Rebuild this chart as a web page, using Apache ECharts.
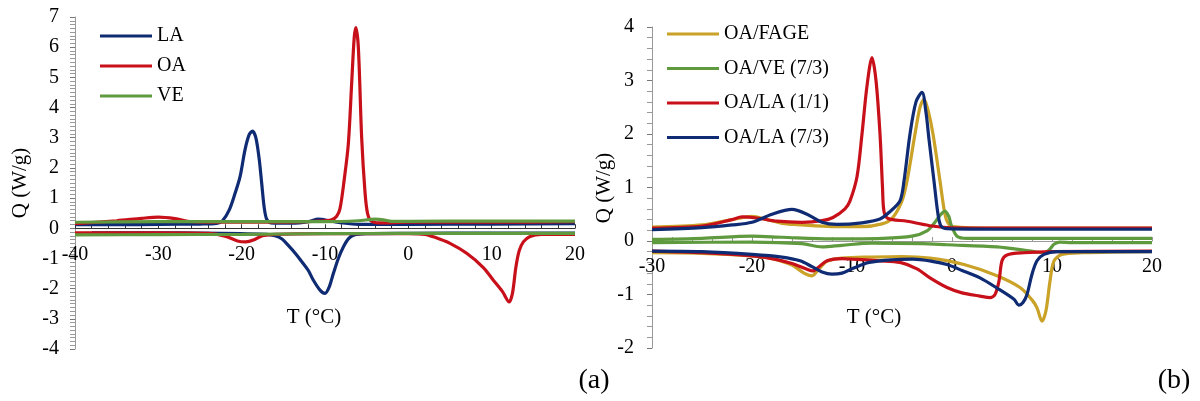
<!DOCTYPE html>
<html><head><meta charset="utf-8">
<script src="https://cdn.jsdelivr.net/npm/echarts@6/dist/echarts.min.js"></script>
<style>html,body{margin:0;padding:0;background:#fff}#c{width:1200px;height:401px}</style>
</head><body><div id="c"></div>
<script>
// ---------- Panel (a) ----------
const legendA = ['LA', 'OA', 'VE'];
const LA_cool = [[-40,0.12],[-35,0.12],[-30,0.13],[-25,0.14],[-23,0.16],[-22.3,0.25],[-21.5,0.6],[-20.8,1.15],[-20.2,1.7],[-19.6,2.6],[-19.1,3.1],[-18.7,3.22],[-18.3,3.0],[-17.9,2.3],[-17.6,1.5],[-17.3,0.7],[-17,0.3],[-16.5,0.18],[-14,0.17],[-12,0.22],[-10.8,0.3],[-9.5,0.25],[-8,0.18],[-6,0.13],[0,0.13],[10,0.14],[20,0.15]];
const LA_heat = [[-38,-0.15],[-30,-0.15],[-25,-0.16],[-20,-0.18],[-17,-0.2],[-16,-0.25],[-15.2,-0.35],[-14.3,-0.6],[-13.5,-0.85],[-12.8,-1.1],[-12,-1.4],[-11.4,-1.72],[-10.6,-2.05],[-10,-2.16],[-9.5,-1.95],[-9,-1.5],[-8.4,-1.0],[-7.8,-0.62],[-7.2,-0.35],[-6.5,-0.22],[-5,-0.18],[0,-0.17],[10,-0.16],[20,-0.16]];
const OA_cool = [[-40,0.15],[-35,0.25],[-32,0.33],[-30,0.37],[-28,0.32],[-26,0.22],[-22,0.2],[-17,0.2],[-12,0.22],[-10,0.25],[-9.2,0.28],[-8.6,0.4],[-8.2,0.65],[-7.7,1.6],[-7.2,2.8],[-6.8,4.8],[-6.5,6.3],[-6.3,6.65],[-6.0,6.0],[-5.6,3.0],[-5.2,1.2],[-4.9,0.5],[-4.5,0.25],[-3.5,0.18],[0,0.2],[10,0.2],[20,0.22]];
const OA_heat = [[-40,-0.15],[-30,-0.15],[-24,-0.17],[-22,-0.26],[-20.5,-0.42],[-19.5,-0.45],[-18.5,-0.38],[-17.5,-0.25],[-16,-0.2],[-10,-0.18],[0,-0.18],[2,-0.2],[3,-0.28],[5,-0.5],[7,-0.83],[9,-1.3],[10.2,-1.72],[11.3,-2.1],[12.1,-2.44],[12.5,-2.15],[12.9,-1.3],[13.3,-0.75],[13.8,-0.45],[14.6,-0.27],[16,-0.2],[20,-0.2]];
const VE_cool = [[-40,0.2],[-30,0.22],[-20,0.22],[-10,0.22],[-6,0.25],[-4,0.3],[-3,0.28],[-2,0.23],[0,0.23],[10,0.24],[20,0.24]];
const VE_heat = [[-40,-0.22],[-30,-0.21],[-20,-0.2],[-10,-0.18],[0,-0.17],[10,-0.17],[20,-0.17]];

// ---------- Panel (b) ----------
const legendB = ['OA/FAGE', 'OA/VE (7/3)', 'OA/LA (1/1)', 'OA/LA (7/3)'];
const FAGE_cool = [[-30,0.26],[-25,0.3],[-22,0.4],[-20,0.46],[-18.5,0.4],[-17,0.33],[-15,0.3],[-12,0.27],[-9,0.27],[-7,0.32],[-6,0.42],[-5,0.75],[-4.5,1.12],[-3.7,2.0],[-3.2,2.5],[-2.8,2.65],[-2.4,2.45],[-1.9,2.0],[-1.2,1.12],[-0.8,0.6],[-0.5,0.37],[0,0.27],[5,0.24],[20,0.24]];
const FAGE_heat = [[-30,-0.22],[-25,-0.23],[-20,-0.28],[-18,-0.33],[-16,-0.45],[-14.8,-0.6],[-14,-0.65],[-13.3,-0.52],[-12.5,-0.38],[-11,-0.32],[-8,-0.3],[-5,-0.29],[-2.2,-0.32],[1.2,-0.44],[4.5,-0.65],[6.8,-0.87],[8,-1.1],[8.5,-1.25],[9.0,-1.5],[9.4,-1.3],[9.8,-0.75],[10.2,-0.37],[11,-0.25],[13,-0.22],[20,-0.2]];
const VE73_cool = [[-30,0.03],[-25,0.05],[-20,0.09],[-17,0.07],[-12,0.04],[-7,0.05],[-4,0.09],[-2.5,0.19],[-1.7,0.35],[-1.2,0.48],[-0.7,0.56],[-0.3,0.45],[-0.1,0.31],[0.5,0.09],[1.5,0.05],[20,0.05]];
const VE73_heat = [[-30,-0.03],[-20,-0.02],[-15,-0.05],[-13,-0.11],[-11,-0.08],[-8,-0.04],[-3,-0.05],[-0.5,-0.07],[4.5,-0.11],[7.9,-0.19],[9.2,-0.22],[9.8,-0.15],[10.2,-0.06],[10.8,-0.02],[12,-0.03],[20,-0.03]];
const LA11_cool = [[-30,0.24],[-25,0.28],[-22,0.4],[-21,0.45],[-19.5,0.43],[-17.5,0.37],[-15,0.35],[-13,0.38],[-11.9,0.44],[-10.7,0.6],[-10.2,0.75],[-9.5,1.2],[-9.0,2.0],[-8.5,2.9],[-8.0,3.43],[-7.6,3.0],[-7.2,2.0],[-6.95,1.0],[-6.8,0.55],[-6.4,0.42],[-4.5,0.37],[-2,0.28],[-0.5,0.25],[5,0.24],[20,0.24]];
const LA11_heat = [[-30,-0.19],[-25,-0.22],[-20,-0.28],[-18,-0.33],[-16,-0.42],[-14.5,-0.53],[-13.9,-0.56],[-13.3,-0.48],[-12.5,-0.37],[-11,-0.33],[-10,-0.34],[-7.2,-0.37],[-5.2,-0.4],[-3.5,-0.52],[-2.2,-0.69],[-0.5,-0.87],[1,-0.97],[2.8,-1.03],[3.8,-1.06],[4.3,-1.0],[4.7,-0.75],[5.0,-0.37],[5.5,-0.26],[7.2,-0.22],[10,-0.2],[20,-0.19]];
const LA73_cool = [[-30,0.21],[-25,0.25],[-22,0.3],[-20,0.35],[-18,0.5],[-16,0.59],[-14.5,0.5],[-13,0.35],[-11.5,0.31],[-9,0.34],[-7.2,0.41],[-6.2,0.55],[-5.2,0.75],[-4.8,1.12],[-4.2,2.0],[-3.6,2.6],[-3.0,2.78],[-2.6,2.4],[-2.3,1.9],[-1.8,1.12],[-1.4,0.5],[-1.1,0.28],[-0.5,0.23],[5,0.22],[20,0.22]];
const LA73_heat = [[-30,-0.19],[-25,-0.2],[-20,-0.25],[-17,-0.3],[-15.2,-0.37],[-14,-0.48],[-13,-0.58],[-12,-0.62],[-11,-0.6],[-10,-0.52],[-8.3,-0.4],[-6,-0.35],[-3.9,-0.34],[-2,-0.38],[-0.5,-0.44],[1,-0.55],[2.8,-0.69],[4.5,-0.88],[6.2,-1.09],[6.7,-1.2],[7.1,-1.15],[7.5,-1.0],[8.0,-0.62],[8.5,-0.37],[9.2,-0.25],[10.5,-0.2],[20,-0.2]];

const BLUE = '#0f2b73', RED = '#c8101a', GREEN = '#5f9a3f', GOLD = '#c9a227';
const FONT = '"Liberation Serif", "Times New Roman", serif';

// grid boxes and y ranges
const GA = { left: 75, top: 17, width: 500, height: 332, ymin: -4, ymax: 7 };
const GB = { left: 652, top: 27, width: 500, height: 321, ymin: -2, ymax: 4 };
function zeroOffset(g) { return -(g.height * (0 - g.ymin) / (g.ymax - g.ymin)); }

function line(name, data, color, gi) {
  return { type: 'line', name: name, data: data, xAxisIndex: gi, yAxisIndex: gi,
    symbol: 'none', showSymbol: false, smooth: 0.3, lineStyle: { color: color, width: 3.2 }, itemStyle: { color: color },
    z: 3 };
}

function xAx(gi, min, max, lineColor, off) {
  return { type: 'value', gridIndex: gi, min: min, max: max, interval: 10, offset: off,
    axisLine: { onZero: false, lineStyle: { color: lineColor, width: 1 } },
    axisTick: { show: true, inside: true, length: 4, lineStyle: { color: lineColor } },
    minorTick: { show: true, splitNumber: 5, length: 4, lineStyle: { color: lineColor } },
    axisLabel: { fontFamily: FONT, fontSize: 20, color: '#000', margin: 16, showMinLabel: true, showMaxLabel: true },
    splitLine: { show: false }, minorSplitLine: { show: false } };
}
function yAx(gi, g, minorSplit, margin) {
  return { type: 'value', gridIndex: gi, min: g.ymin, max: g.ymax, interval: 1,
    axisLine: { show: true, onZero: false, lineStyle: { color: '#999', width: 1 } },
    axisTick: { show: true, inside: false, length: 5, lineStyle: { color: '#777' } },
    minorTick: { show: true, splitNumber: minorSplit, length: 5, lineStyle: { color: '#999' } },
    axisLabel: { fontFamily: FONT, fontSize: 20, color: '#000', margin: margin },
    splitLine: { show: false }, minorSplitLine: { show: false } };
}

const chart = echarts.init(document.getElementById('c'), null, { renderer: 'canvas' });
chart.setOption({
  animation: false,
  backgroundColor: '#fff',
  grid: [
    { left: GA.left, top: GA.top, width: GA.width, height: GA.height },
    { left: GB.left, top: GB.top, width: GB.width, height: GB.height }
  ],
  xAxis: [xAx(0, -40, 20, '#333', zeroOffset(GA)), xAx(1, -30, 20, '#999', zeroOffset(GB))],
  yAxis: [yAx(0, GA, 8, 16), yAx(1, GB, 5, 18)],
  legend: [
    { data: legendA, orient: 'vertical', left: 95, top: 21, icon: 'rect', itemWidth: 52, itemHeight: 3, itemGap: 10,
      textStyle: { fontFamily: FONT, fontSize: 20, lineHeight: 20, color: '#000' }, selectedMode: false },
    { data: legendB, orient: 'vertical', left: 662, top: 19, icon: 'rect', itemWidth: 52, itemHeight: 3, itemGap: 14.5,
      textStyle: { fontFamily: FONT, fontSize: 20, lineHeight: 20, color: '#000' }, selectedMode: false }
  ],
  graphic: [
    { type: 'text', x: 20, y: 183, rotation: Math.PI / 2, style: { text: 'Q (W/g)', font: '21px ' + FONT, fill: '#000', align: 'center', verticalAlign: 'middle', textAlign: 'center', textVerticalAlign: 'middle' } },
    { type: 'text', x: 604, y: 188, rotation: Math.PI / 2, style: { text: 'Q (W/g)', font: '21px ' + FONT, fill: '#000', align: 'center', verticalAlign: 'middle', textAlign: 'center', textVerticalAlign: 'middle' } },
    { type: 'text', x: 314, y: 317, style: { text: 'T (°C)', font: '21px ' + FONT, fill: '#000', align: 'center', verticalAlign: 'middle', textAlign: 'center', textVerticalAlign: 'middle' } },
    { type: 'text', x: 874, y: 317, style: { text: 'T (°C)', font: '21px ' + FONT, fill: '#000', align: 'center', verticalAlign: 'middle', textAlign: 'center', textVerticalAlign: 'middle' } },
    { type: 'text', x: 594, y: 381, style: { text: '(a)', font: '28px ' + FONT, fill: '#000', align: 'center', verticalAlign: 'middle', textAlign: 'center', textVerticalAlign: 'middle' } },
    { type: 'text', x: 1174, y: 381, style: { text: '(b)', font: '28px ' + FONT, fill: '#000', align: 'center', verticalAlign: 'middle', textAlign: 'center', textVerticalAlign: 'middle' } }
  ],
  series: [
    line('LA', LA_cool, BLUE, 0), line('LA', LA_heat, BLUE, 0),
    line('OA', OA_cool, RED, 0), line('OA', OA_heat, RED, 0),
    line('VE', VE_cool, GREEN, 0), line('VE', VE_heat, GREEN, 0),
    line('OA/FAGE', FAGE_cool, GOLD, 1), line('OA/FAGE', FAGE_heat, GOLD, 1),
    line('OA/VE (7/3)', VE73_cool, GREEN, 1), line('OA/VE (7/3)', VE73_heat, GREEN, 1),
    line('OA/LA (1/1)', LA11_cool, RED, 1), line('OA/LA (1/1)', LA11_heat, RED, 1),
    line('OA/LA (7/3)', LA73_cool, BLUE, 1), line('OA/LA (7/3)', LA73_heat, BLUE, 1)
  ]
});
</script></body></html>
